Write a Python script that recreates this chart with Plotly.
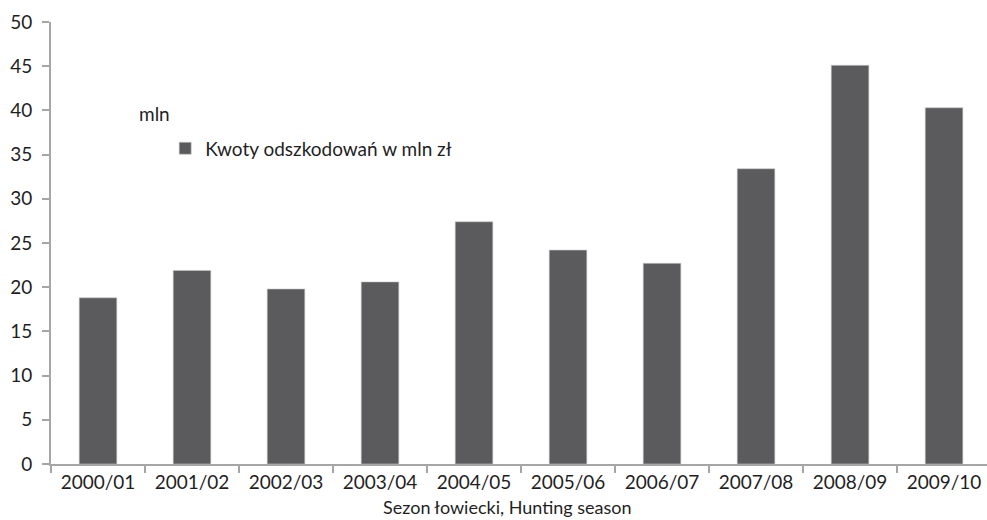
import plotly.graph_objects as go

# Hunting seasons and compensation amounts (million PLN)
seasons = ["2000/01", "2001/02", "2002/03", "2003/04", "2004/05",
           "2005/06", "2006/07", "2007/08", "2008/09", "2009/10"]
amounts = [18.8, 21.9, 19.8, 20.6, 27.4, 24.2, 22.7, 33.4, 45.1, 40.3]
y_ticks = [0, 5, 10, 15, 20, 25, 30, 35, 40, 45, 50]

FONT = "Lato"
TEXT = "#1f1f1f"
AXIS = "#a6a6a6"
BAR = "#5b5b5d"

fig = go.Figure()
fig.add_trace(go.Bar(
    x=seasons,
    y=amounts,
    name="Kwoty odszkodowań w mln zł",
    marker=dict(color=BAR, line=dict(color="#c8c8c8", width=0.6)),
    width=0.4,
))

fig.update_layout(
    width=987,
    height=520,
    margin=dict(l=51, r=0, t=22, b=56),
    paper_bgcolor="white",
    plot_bgcolor="white",
    font=dict(family=FONT, size=19, color=TEXT),
    showlegend=True,
    legend=dict(
        x=0.122, y=0.714, xanchor="left", yanchor="middle",
        bgcolor="rgba(0,0,0,0)",
        font=dict(family=FONT, size=19, color=TEXT),
        itemwidth=30,
    ),
    xaxis=dict(
        type="category",
        range=[-0.5, 9.457],
        showline=True, linecolor=AXIS, linewidth=2,
        ticks="outside", tickson="boundaries", ticklen=7,
        tickcolor=AXIS, tickwidth=2,
        showgrid=False, zeroline=False,
        tickfont=dict(family=FONT, size=19, color=TEXT),
    ),
    yaxis=dict(
        range=[0, 50],
        tickvals=y_ticks,
        showline=True, linecolor=AXIS, linewidth=2,
        ticks="outside", ticklen=7, tickcolor=AXIS, tickwidth=2,
        showgrid=False, zeroline=False,
        tickfont=dict(family=FONT, size=19, color=TEXT),
        ticklabelstandoff=6,
    ),
    annotations=[
        dict(text="mln", xref="paper", yref="paper",
             x=0.092, y=0.794, xanchor="left", yanchor="middle",
             showarrow=False, font=dict(family=FONT, size=19, color=TEXT)),
        dict(text="Sezon łowiecki, Hunting season", xref="paper", yref="paper",
             x=0.488, y=-0.097, xanchor="center", yanchor="middle",
             showarrow=False, font=dict(family=FONT, size=18, color=TEXT)),
    ],
)

fig.write_html("out.html")
